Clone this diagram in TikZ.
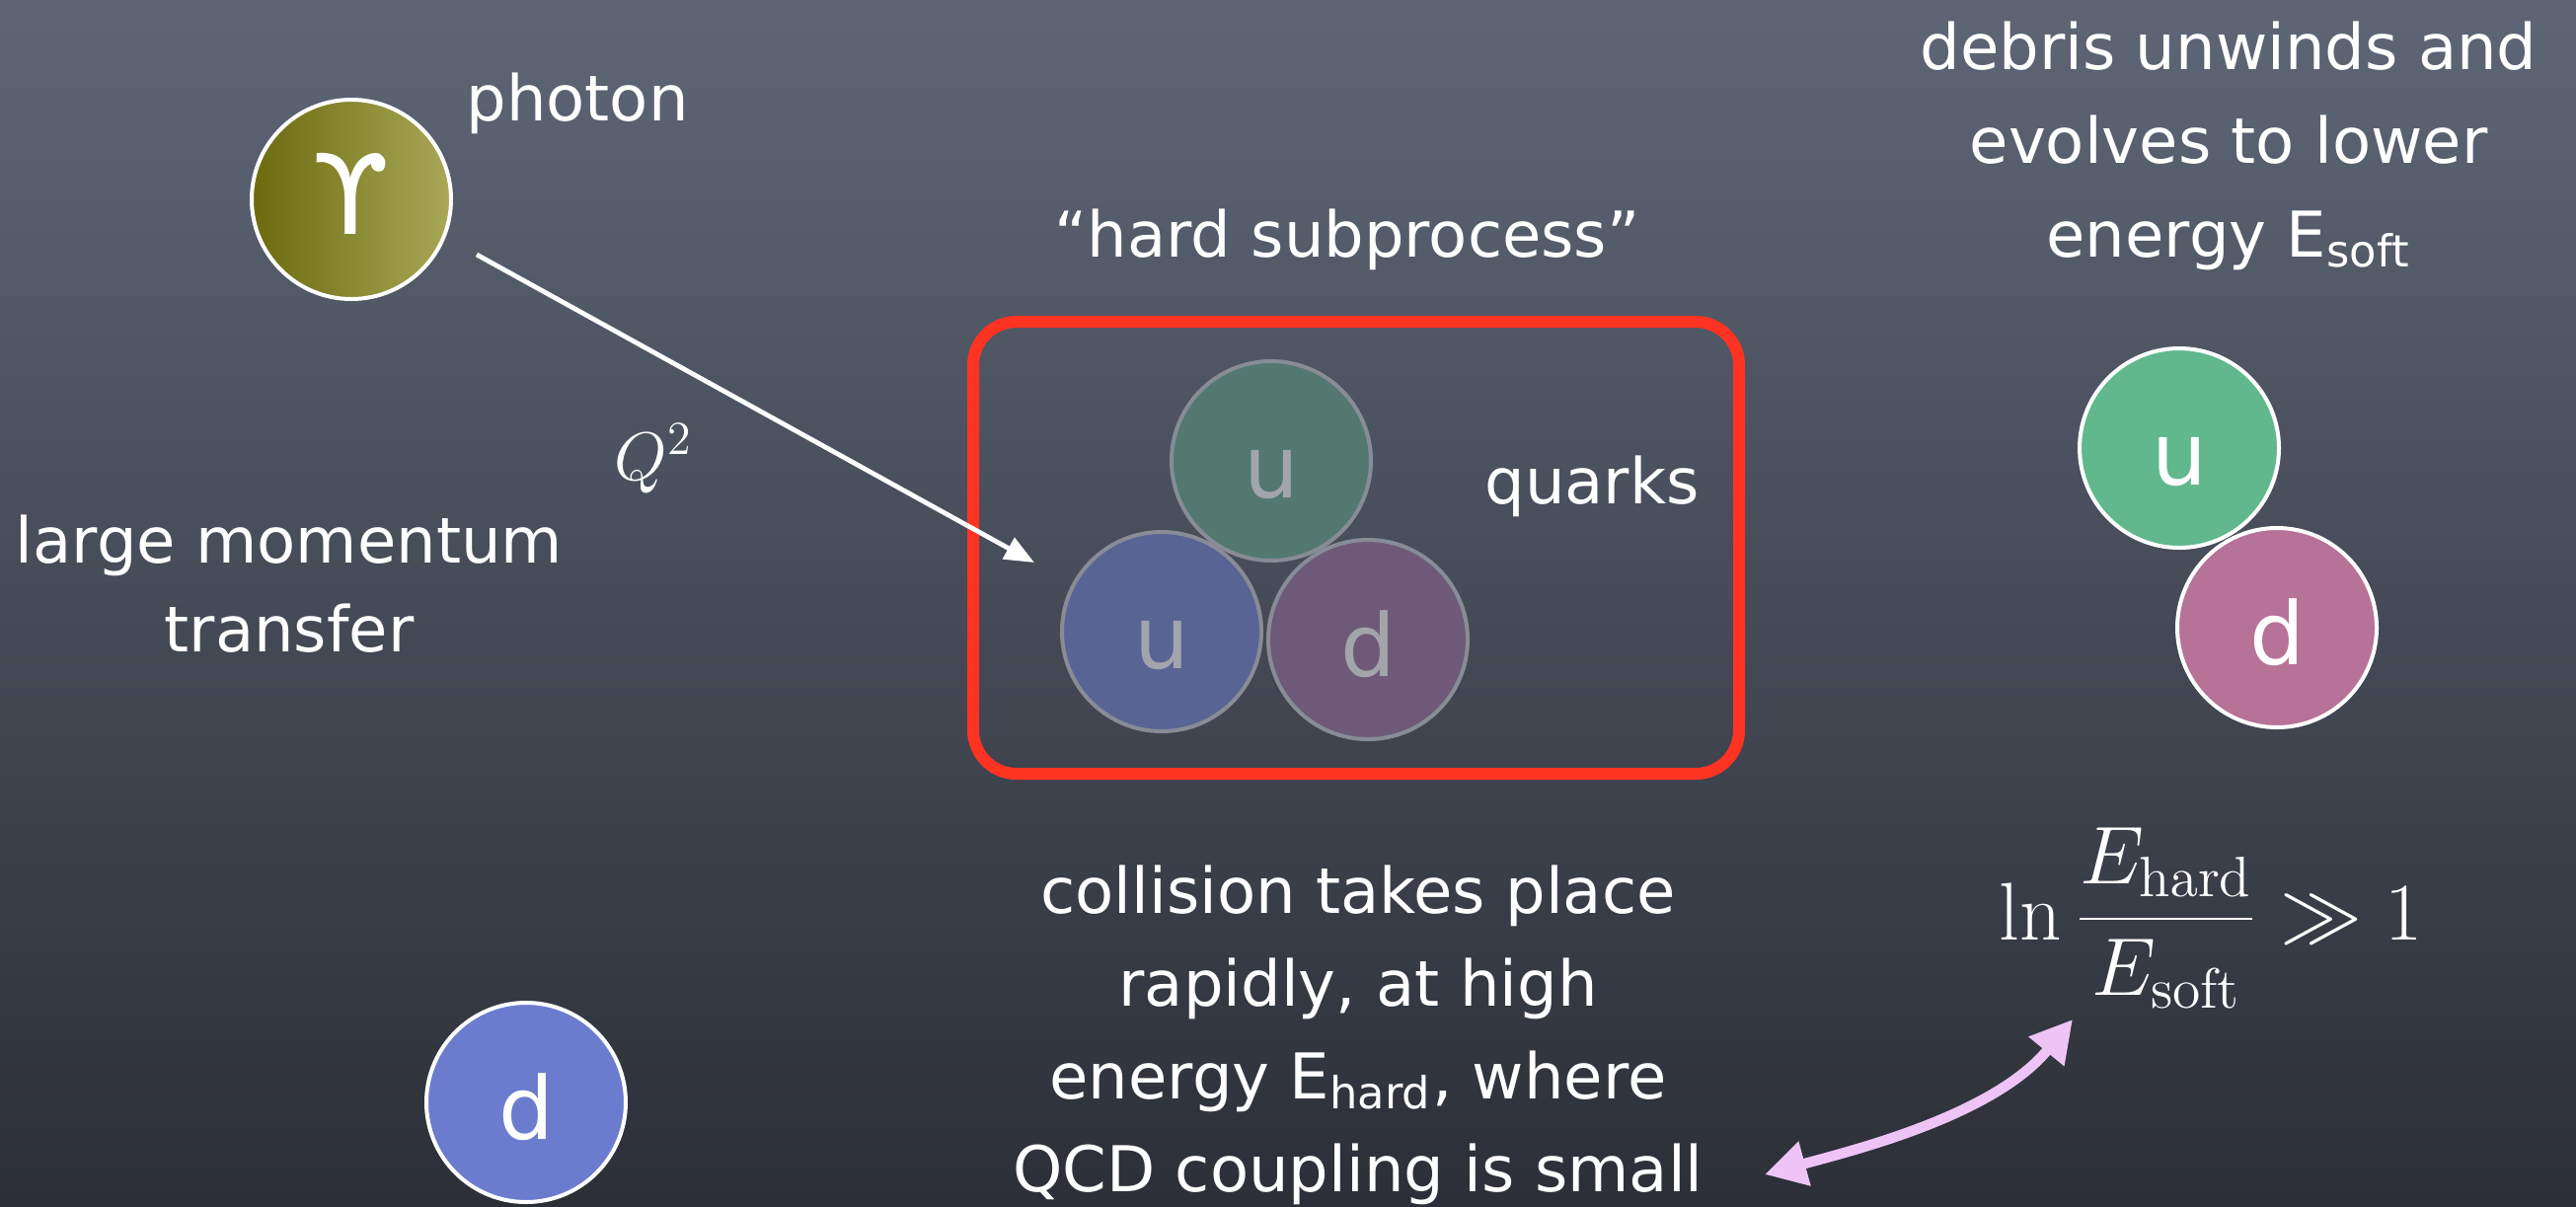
\documentclass[tikz,border=0pt]{standalone}
\usepackage[no-math]{fontspec}
\setmainfont{DejaVu Sans}
\usetikzlibrary{arrows.meta}
\definecolor{bgtop}{RGB}{94,102,118}
\definecolor{bgmid}{RGB}{74,81,96}
\definecolor{bgbot}{RGB}{44,47,55}
\definecolor{olivedark}{RGB}{108,106,14}
\definecolor{olivelight}{RGB}{168,168,88}
\definecolor{ugreen}{RGB}{96,184,140}
\definecolor{dpink}{RGB}{183,114,151}
\definecolor{dblue}{RGB}{107,124,207}
\definecolor{fgreen}{RGB}{82,120,112}
\definecolor{fblue}{RGB}{88,100,148}
\definecolor{fpink}{RGB}{110,90,120}
\definecolor{fborder}{RGB}{135,140,150}
\definecolor{fletter}{RGB}{162,165,172}
\definecolor{boxred}{RGB}{255,51,34}
\definecolor{lavender}{RGB}{238,196,246}
\tikzset{
  txt/.style={text=white, font=\fontsize{16}{24}\selectfont, inner sep=0pt, anchor=base},
  ball/.style={circle, draw=white, line width=1pt, minimum size=50.5pt, inner sep=0pt,
    text=white, font=\fontsize{22}{22}\selectfont, text height=18.5pt, text depth=0pt},
  faded/.style={ball, draw=fborder, text=fletter},
  whitearrow/.style={draw=white, line width=1.2pt, -{Triangle[length=7.5pt,width=6pt]}},
  pinkarrow/.style={draw=lavender, line width=2.6pt,
    {Triangle[length=10.5pt,width=11pt]}-{Triangle[length=10.5pt,width=11pt]}}
}
\begin{document}
\begin{tikzpicture}[x=0.25pt, y=-0.25pt]
\useasboundingbox (0,0) rectangle (2610,1222);
\shade[top color=bgtop, middle color=bgmid, bottom color=bgbot] (0,0) rectangle (2610,1222);

% photon
\node[ball, left color=olivedark, right color=olivelight, font=\fontsize{28}{28}\selectfont, text height=17.5pt] (photon) at (356,202) {ϒ};
\node[txt] (photonlbl) at (585,122) {photon};

% hard subprocess box
\node[draw=boxred, line width=3pt, rounded corners=11pt, minimum width=194pt, minimum height=114.5pt, inner sep=0pt] (hardbox) at (1374,555) {};
\node[txt] (hardlbl) at (1365,260) {“hard subprocess”};
\node[faded, fill=fgreen] (qu1) at (1288,467) {u};
\node[faded, fill=fblue] (qu2) at (1177,640) {u};
\node[faded, fill=fpink] (qd) at (1386,648) {d};
\node[txt] (quarks) at (1613,510) {quarks};

% photon arrow
\coordinate (qend) at (1048,570);
\draw[whitearrow, shorten <=9pt] (photon.-22) -- (qend);
\node[text=white, font=\fontsize{17}{20}\selectfont, inner sep=0pt, anchor=base] (q2) at (662,486) {$Q^2$};

% left text
\node[txt] (lm1) at (293,570) {large momentum};
\node[txt] (lm2) at (293,660) {transfer};

% bottom-left d
\node[ball, fill=dblue] (dleft) at (533,1117) {d};

% top right text
\node[txt] (deb1) at (2258,70) {debris unwinds and};
\node[txt] (deb2) at (2258,165) {evolves to lower};
\node[txt] (deb3) at (2258,260) {energy E\textsubscript{soft}};

% debris
\node[ball, fill=ugreen] (du) at (2208,454) {u};
\node[ball, fill=dpink] (dd) at (2307,636) {d};

% bottom text
\node[txt] (col1) at (1376,925) {collision takes place};
\node[txt] (col2) at (1376,1019) {rapidly, at high};
\node[txt] (col3) at (1376,1113) {energy E\textsubscript{hard}, where};
\node[txt] (col4) at (1376,1207) {QCD coupling is small};

% formula
\node[text=white, font=\fontsize{21.5}{26}\selectfont, inner sep=0pt, anchor=base] (formula) at (2240,952)
  {$\displaystyle \ln\frac{E_{\mathrm{hard}}}{E_{\mathrm{soft}}}\gg 1$};

% pink double arrow
\coordinate (pa) at (1788,1190);
\coordinate (pb) at (2100,1033);
\draw[pinkarrow] (pa) .. controls (1880,1165) and (2020,1130) .. (pb);
\end{tikzpicture}
\end{document}
